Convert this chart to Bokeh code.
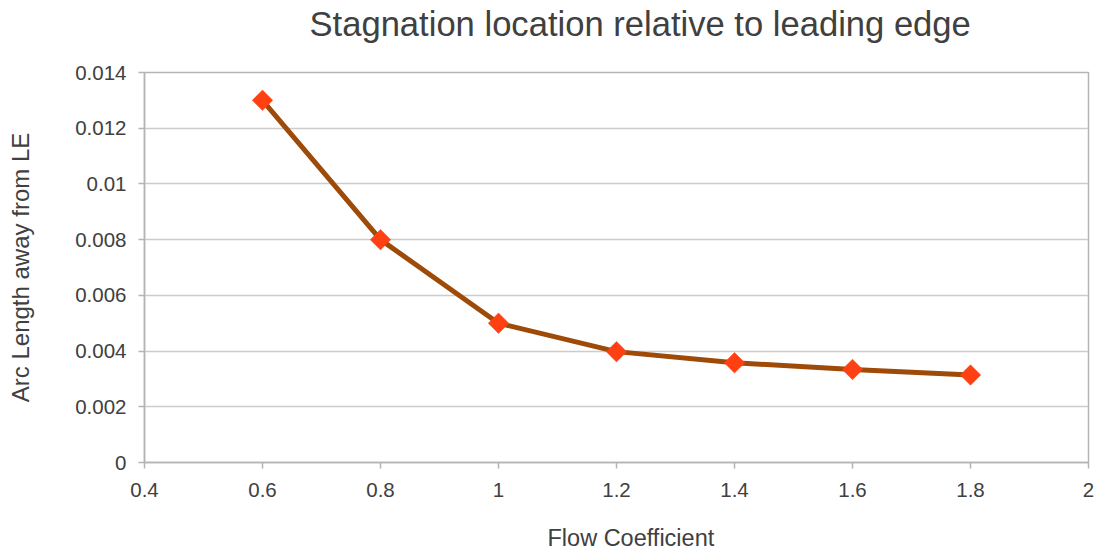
import numpy as np
from bokeh.plotting import figure
from bokeh.models import FixedTicker, CustomJSTickFormatter, Range1d, Title
from bokeh.embed import file_html
from bokeh.resources import INLINE

# Data
flow_coeff = [0.6, 0.8, 1.0, 1.2, 1.4, 1.6, 1.8]
arc_length = [0.013, 0.008, 0.005, 0.00398, 0.00358, 0.00334, 0.00314]
x_ticks = [0.4, 0.6, 0.8, 1.0, 1.2, 1.4, 1.6, 1.8, 2.0]
y_ticks = [0, 0.002, 0.004, 0.006, 0.008, 0.010, 0.012, 0.014]

FONT = "Liberation Sans"
TXT = "#404040"
GRID = "#cccccc"
AXIS = "#b4b4b4"

p = figure(frame_width=944, frame_height=390,
           min_border_left=144, min_border_right=11,
           min_border_top=72, min_border_bottom=88,
           x_range=Range1d(0.4, 2.0), y_range=Range1d(0, 0.014),
           output_backend="svg", toolbar_location=None)

fmt = CustomJSTickFormatter(code="return String(parseFloat(tick.toFixed(6)));")

xax = p.below[0]
yax = p.left[0]
xax.ticker = FixedTicker(ticks=x_ticks)
yax.ticker = FixedTicker(ticks=y_ticks)
xax.formatter = fmt
yax.formatter = fmt

for ax in (xax, yax):
    ax.axis_line_color = AXIS
    ax.axis_line_width = 1.5
    ax.major_tick_line_color = AXIS
    ax.major_tick_line_width = 1.5
    ax.major_tick_out = 6
    ax.major_tick_in = 0
    ax.minor_tick_line_color = None
    ax.major_label_text_font = FONT
    ax.major_label_text_font_size = "20.5px"
    ax.major_label_text_color = TXT
    ax.axis_label_text_font = FONT
    ax.axis_label_text_font_size = "24px"
    ax.axis_label_text_font_style = "normal"
    ax.axis_label_text_color = TXT

xax.major_label_standoff = 14
yax.major_label_standoff = 12
yax.axis_label = "Arc Length away from LE"
yax.axis_label_standoff = 38

p.xgrid.grid_line_color = None
p.ygrid.grid_line_color = GRID
p.ygrid.grid_line_width = 1.5
p.outline_line_color = AXIS
p.outline_line_width = 1.5
p.background_fill_color = "white"
p.border_fill_color = "white"

p.line(flow_coeff, arc_length, line_color="#9E4B0A", line_width=5)
p.scatter(flow_coeff, arc_length, marker="square", angle=np.pi / 4, size=14.5,
          fill_color="#FF4012", line_color="#FF4012", line_width=0.5)


def spacer(px):
    # blank (white on white) title used only to reserve vertical space
    return Title(text=" ", text_font_size="1px", standoff=px, text_color="#ffffff")


# spacer between frame and title, then title
p.add_layout(spacer(27), "above")
p.add_layout(Title(text="Stagnation location relative to leading edge",
                   align="left", offset=165, standoff=0,
                   text_font=FONT, text_font_size="34.6px", text_font_style="normal",
                   text_color=TXT), "above")

# spacer between x axis and its title, then title
p.add_layout(spacer(20), "below")
p.add_layout(Title(text="Flow Coefficient", align="left", offset=403, standoff=0,
                   text_font=FONT, text_font_size="23.5px", text_font_style="normal",
                   text_color=TXT), "below")

open("out.html", "w").write(file_html(p, INLINE))
